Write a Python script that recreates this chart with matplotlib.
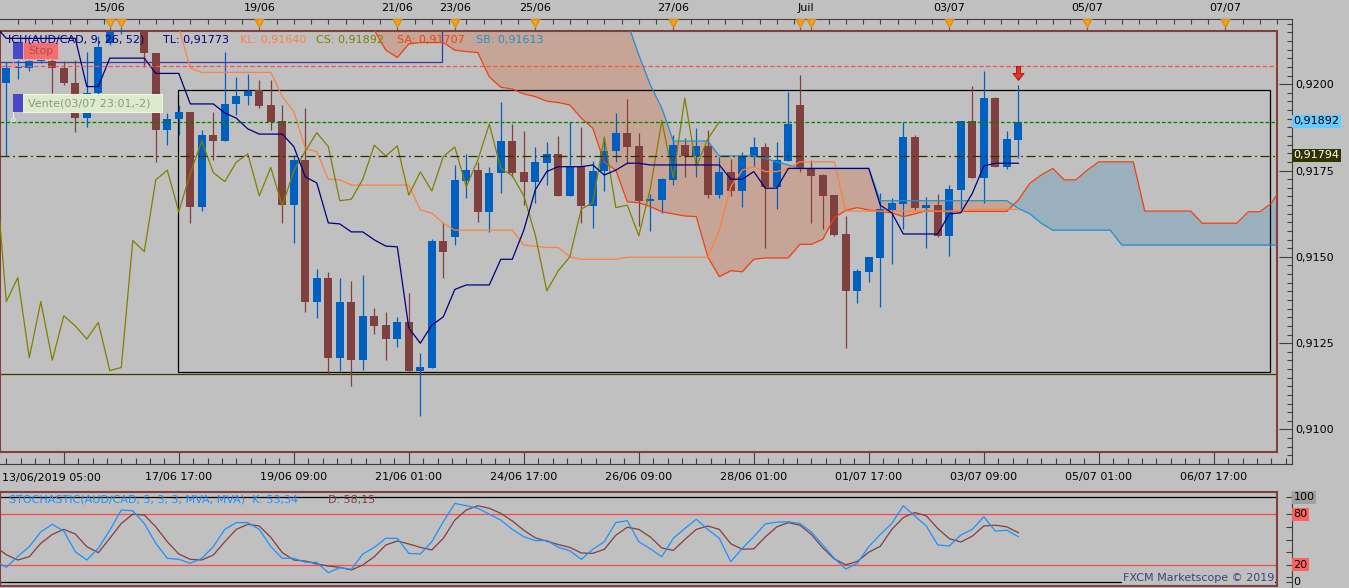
import numpy as np
import matplotlib
matplotlib.use("Agg")
import matplotlib.pyplot as plt
from matplotlib.patches import Rectangle, Circle
from matplotlib.path import Path
from matplotlib.transforms import Affine2D, blended_transform_factory

plt.rcParams['font.family'] = ['DejaVu Sans']
plt.rcParams['font.size'] = 8

# ---- AUD/CAD H4 candles, bar 0 = 13/06/2019 05:00 ----
opens = [0.92005, 0.92047, 0.92047, 0.92069, 0.92069, 0.92047, 0.92003, 0.91903, 0.91975, 0.92119,
         0.92151, 0.92180, 0.92165, 0.92092, 0.91868, 0.91900, 0.91921, 0.91648, 0.91853, 0.91838,
         0.91944, 0.91967, 0.91984, 0.91941, 0.91896, 0.91652, 0.91782, 0.91374, 0.91443, 0.91212,
         0.91374, 0.91205, 0.91333, 0.91306, 0.91266, 0.91314, 0.91175, 0.91183, 0.91550, 0.91561,
         0.91723, 0.91753, 0.91633, 0.91744, 0.91837, 0.91748, 0.91720, 0.91774, 0.91800, 0.91679,
         0.91761, 0.91650, 0.91751, 0.91808, 0.91861, 0.91823, 0.91665, 0.91667, 0.91725, 0.91825,
         0.91794, 0.91823, 0.91681, 0.91748, 0.91693, 0.91792, 0.91820, 0.91705, 0.91780, 0.91941,
         0.91758, 0.91739, 0.91681, 0.91569, 0.91405, 0.91460, 0.91500, 0.91638, 0.91656, 0.91849,
         0.91645, 0.91652, 0.91564, 0.91696, 0.91896, 0.91731, 0.91961, 0.91763, 0.91840]
highs = [0.92066, 0.92071, 0.92071, 0.92100, 0.92099, 0.92069, 0.92071, 0.92095, 0.92140, 0.92165,
         0.92190, 0.92200, 0.92175, 0.92092, 0.91918, 0.91941, 0.91921, 0.91869, 0.91921, 0.92095,
         0.92022, 0.92030, 0.92013, 0.92013, 0.91941, 0.91797, 0.91931, 0.91468, 0.91458, 0.91443,
         0.91434, 0.91451, 0.91355, 0.91345, 0.91330, 0.91398, 0.91227, 0.91554, 0.91603, 0.91768,
         0.91799, 0.91776, 0.91763, 0.91950, 0.91885, 0.91865, 0.91821, 0.91834, 0.91851, 0.91893,
         0.91877, 0.91779, 0.91845, 0.91917, 0.91958, 0.91859, 0.91683, 0.91731, 0.91854, 0.91847,
         0.91874, 0.91868, 0.91792, 0.91785, 0.91805, 0.91849, 0.91830, 0.91835, 0.91979, 0.92027,
         0.91782, 0.91742, 0.91681, 0.91621, 0.91468, 0.91503, 0.91686, 0.91672, 0.91892, 0.91854,
         0.91675, 0.91684, 0.91710, 0.91896, 0.91996, 0.92039, 0.91965, 0.91867, 0.91999]
lows = [0.91794, 0.92015, 0.92040, 0.92062, 0.91975, 0.91999, 0.91862, 0.91878, 0.91970, 0.92115,
        0.92145, 0.92160, 0.92050, 0.91777, 0.91826, 0.91854, 0.91600, 0.91636, 0.91782, 0.91838,
        0.91912, 0.91941, 0.91932, 0.91869, 0.91601, 0.91544, 0.91345, 0.91326, 0.91164, 0.91175,
        0.91131, 0.91177, 0.91280, 0.91205, 0.91244, 0.91175, 0.91044, 0.91183, 0.91443, 0.91537,
        0.91672, 0.91604, 0.91574, 0.91688, 0.91734, 0.91652, 0.91657, 0.91710, 0.91679, 0.91679,
        0.91601, 0.91587, 0.91694, 0.91777, 0.91771, 0.91593, 0.91578, 0.91629, 0.91710, 0.91734,
        0.91734, 0.91672, 0.91672, 0.91679, 0.91648, 0.91763, 0.91528, 0.91641, 0.91780, 0.91749,
        0.91601, 0.91583, 0.91564, 0.91241, 0.91371, 0.91430, 0.91359, 0.91481, 0.91582, 0.91638,
        0.91528, 0.91561, 0.91506, 0.91641, 0.91731, 0.91657, 0.91763, 0.91756, 0.91789]
closes = [0.92047, 0.92048, 0.92069, 0.92080, 0.92047, 0.92003, 0.91903, 0.91975, 0.92109, 0.92151,
          0.92180, 0.92165, 0.92092, 0.91868, 0.91900, 0.91921, 0.91648, 0.91853, 0.91838, 0.91944,
          0.91967, 0.91982, 0.91938, 0.91893, 0.91652, 0.91782, 0.91374, 0.91443, 0.91212, 0.91374,
          0.91205, 0.91333, 0.91304, 0.91266, 0.91314, 0.91175, 0.91184, 0.91550, 0.91518, 0.91725,
          0.91753, 0.91633, 0.91744, 0.91837, 0.91746, 0.91720, 0.91776, 0.91800, 0.91679, 0.91761,
          0.91650, 0.91751, 0.91808, 0.91861, 0.91821, 0.91665, 0.91669, 0.91727, 0.91825, 0.91794,
          0.91823, 0.91681, 0.91748, 0.91693, 0.91792, 0.91820, 0.91705, 0.91782, 0.91886, 0.91758,
          0.91737, 0.91679, 0.91566, 0.91405, 0.91463, 0.91503, 0.91641, 0.91659, 0.91849, 0.91645,
          0.91652, 0.91564, 0.91699, 0.91896, 0.91731, 0.91961, 0.91763, 0.91843, 0.91892]

# ---- Ichimoku (9, 26, 52) ----
line_start = -1   # first bar of tenkan / kijun
tenkan = [0.92170, 0.92133, 0.92133, 0.92133, 0.92133, 0.92133, 0.92133, 0.92133, 0.91994, 0.91994,
          0.92076, 0.92076, 0.92076, 0.92076, 0.92032, 0.92032, 0.92032, 0.91944, 0.91944, 0.91944,
          0.91918, 0.91903, 0.91872, 0.91857, 0.91857, 0.91857, 0.91821, 0.91734, 0.91716, 0.91601,
          0.91598, 0.91575, 0.91575, 0.91552, 0.91534, 0.91532, 0.91298, 0.91254, 0.91306, 0.91330,
          0.91409, 0.91422, 0.91422, 0.91422, 0.91496, 0.91496, 0.91580, 0.91696, 0.91749, 0.91763,
          0.91763, 0.91763, 0.91768, 0.91739, 0.91753, 0.91773, 0.91773, 0.91768, 0.91768, 0.91768,
          0.91768, 0.91768, 0.91768, 0.91768, 0.91727, 0.91727, 0.91749, 0.91701, 0.91701, 0.91758,
          0.91758, 0.91758, 0.91758, 0.91758, 0.91758, 0.91758, 0.91758, 0.91652, 0.91630, 0.91569,
          0.91569, 0.91569, 0.91569, 0.91627, 0.91630, 0.91686, 0.91765, 0.91773, 0.91773, 0.91773]
kijun = [0.92200, 0.92200, 0.92200, 0.92200, 0.92200, 0.92200, 0.92200, 0.92200, 0.92200, 0.92200,
         0.92200, 0.92200, 0.92200, 0.92200, 0.92200, 0.92200, 0.92165, 0.92047, 0.92035, 0.92035,
         0.92035, 0.92035, 0.92035, 0.92035, 0.92035, 0.91965, 0.91922, 0.91816, 0.91806, 0.91727,
         0.91725, 0.91710, 0.91710, 0.91710, 0.91710, 0.91710, 0.91710, 0.91638, 0.91629, 0.91600,
         0.91580, 0.91580, 0.91580, 0.91580, 0.91580, 0.91580, 0.91537, 0.91534, 0.91530, 0.91530,
         0.91503, 0.91496, 0.91496, 0.91496, 0.91496, 0.91502, 0.91502, 0.91502, 0.91502, 0.91502,
         0.91502, 0.91502, 0.91502, 0.91580, 0.91705, 0.91753, 0.91763, 0.91749, 0.91749, 0.91758,
         0.91777, 0.91777, 0.91777, 0.91777, 0.91635, 0.91635, 0.91635, 0.91635, 0.91635, 0.91635,
         0.91635, 0.91635, 0.91635, 0.91635, 0.91635, 0.91640, 0.91640, 0.91640, 0.91640, 0.91640]
span_start = 30   # first bar of senkou spans (already shifted 26 bars forward)
senkou_a = [0.92220, 0.92220, 0.92157, 0.92099, 0.92078, 0.92117, 0.92121, 0.92121, 0.92121, 0.92099,
            0.92095, 0.92092, 0.92022, 0.91992, 0.91987, 0.91973, 0.91965, 0.91952, 0.91948, 0.91941,
            0.91903, 0.91874, 0.91776, 0.91753, 0.91662, 0.91659, 0.91648, 0.91633, 0.91627, 0.91621,
            0.91619, 0.91503, 0.91446, 0.91463, 0.91460, 0.91496, 0.91500, 0.91500, 0.91500, 0.91539,
            0.91539, 0.91554, 0.91616, 0.91637, 0.91645, 0.91638, 0.91634, 0.91630, 0.91619, 0.91627,
            0.91636, 0.91634, 0.91634, 0.91634, 0.91634, 0.91634, 0.91634, 0.91634, 0.91667, 0.91715,
            0.91739, 0.91758, 0.91725, 0.91725, 0.91753, 0.91777, 0.91777, 0.91777, 0.91777, 0.91635,
            0.91635, 0.91635, 0.91635, 0.91635, 0.91600, 0.91600, 0.91600, 0.91600, 0.91633, 0.91633,
            0.91657, 0.91710]
senkou_b = [0.92250, 0.92250, 0.92250, 0.92250, 0.92250, 0.92250, 0.92250, 0.92250, 0.92250, 0.92250,
            0.92250, 0.92250, 0.92250, 0.92250, 0.92250, 0.92250, 0.92250, 0.92250, 0.92250, 0.92250,
            0.92250, 0.92250, 0.92250, 0.92250, 0.92180, 0.92085, 0.91999, 0.91932, 0.91837, 0.91837,
            0.91837, 0.91837, 0.91794, 0.91794, 0.91794, 0.91794, 0.91787, 0.91777, 0.91768, 0.91758,
            0.91758, 0.91758, 0.91758, 0.91758, 0.91758, 0.91758, 0.91665, 0.91665, 0.91665, 0.91665,
            0.91665, 0.91665, 0.91665, 0.91665, 0.91665, 0.91665, 0.91665, 0.91665, 0.91643, 0.91627,
            0.91600, 0.91580, 0.91580, 0.91580, 0.91580, 0.91580, 0.91580, 0.91537, 0.91537, 0.91537,
            0.91537, 0.91537, 0.91537, 0.91537, 0.91537, 0.91537, 0.91537, 0.91537, 0.91537, 0.91537,
            0.91537, 0.91537]
chikou_shift = 26

# ---- Stochastic (5, 3, 3) ----
stoch_start = -1
stoch_k = [25, 17, 30, 41.5, 59, 68, 60, 35.5, 25.7, 39.6,
           61, 85, 84, 69, 45.5, 27.7, 26.5, 21.8, 27.7, 41.5,
           62, 70, 70, 62, 41.5, 27.7, 27.7, 23, 22.8, 10.7,
           16.6, 14.7, 32.8, 40.7, 51.4, 51.4, 33.6, 32.8, 47.4, 71,
           92.8, 90, 87, 80, 73, 62, 53.3, 48.6, 49, 40.7,
           36.7, 26.5, 38.4, 47.4, 70, 72.3, 47.4, 39, 29.6, 51.4,
           63, 74, 62, 51.4, 23.7, 39.6, 53.3, 68.4, 70.5, 71,
           69, 59, 43.5, 27.7, 15, 21.8, 41.5, 56, 69, 90,
           77.8, 66, 43.5, 42.3, 55.3, 62, 77, 60, 61, 53.34]
stoch_d = [42, 32, 25.7, 29.6, 45.5, 56, 62, 56.5, 41.5, 34.4,
           51.4, 69, 80, 79, 65, 47.4, 32.8, 26.5, 25.7, 31.6,
           47.4, 62, 68, 66, 52.6, 34.4, 25.7, 24.5, 21, 18.6,
           17, 13.9, 19.8, 29.6, 43.5, 48.2, 44.7, 40.7, 37.6, 51.4,
           73, 85, 90, 87, 81, 72, 61, 52, 48, 44,
           40.7, 34, 33.6, 38.4, 55, 64.5, 62, 53, 40, 37,
           50, 62, 66, 62, 45, 38.4, 39, 53, 65, 70,
           67, 56, 40, 27, 20, 24, 35, 42, 62, 76,
           82, 78, 63, 51, 47, 54, 66, 67, 65, 58.15]
stoch_levels = [100, 80, 20, 0]

# ---- drawn objects / levels ----
stop_level = 0.92053
bid_level = 0.91892
last_level = 0.91794
low_line = 0.91164
box_bars = (14.96, 109.9)
box_prices = (0.91170, 0.91983)
zone_right_bar = 37.9
zone_price = 0.92066
signal_bar, signal_price = 88, 0.92033

price_ticks = [0.9100, 0.9125, 0.9150, 0.9175, 0.9200]
time_tick_bars = [5, 15, 25, 35, 45, 55, 65, 75, 85, 95, 105]
time_tick_labels = ['', '17/06 17:00', '19/06 09:00', '21/06 01:00', '24/06 17:00', '26/06 09:00',
                    '28/06 01:00', '01/07 17:00', '03/07 09:00', '05/07 01:00', '06/07 17:00']
event_bars = [9, 10, 22, 34, 39, 46, 58, 69, 70, 82, 94, 106]
date_label_bars = [9, 22, 34, 39, 46, 58, 69.5, 82, 94, 106]
date_labels = ['15/06', '19/06', '21/06', '23/06', '25/06', '27/06', 'Juil', '03/07', '05/07', '07/07']

# ---- colours ----
BG = '#C0C0C0'
FRAME = '#804040'
AXIS = '#404040'
BULL, BEAR = '#0060C0', '#804040'
NAVY, KIJ, OLIVE, SA_C, SB_C = '#000080', '#FF8040', '#808000', '#F04010', '#2090D0'
CLOUD_DN, CLOUD_UP = '#C6A596', '#9AB0BE'
K_C, D_C = '#1E90FF', '#804040'

# ---- pixel layout ----
W, H = 1349, 588
BAR0_PX, BAR_PX = 6.3, 11.5
P_REF, P_REF_PX, PX_PER_PRICE = 0.92, 84.5, 86.7 / 0.0025


def bar_at(px):
    return (px - BAR0_PX) / BAR_PX


def price_at(py):
    return P_REF - (py - P_REF_PX) / PX_PER_PRICE


def stoch_at(py):
    return (581.7 - py) / 0.844


fig = plt.figure(figsize=(W / 100, H / 100), dpi=100, facecolor=BG)
pix = Affine2D().scale(1.0 / W, -1.0 / H).translate(0, 1) + fig.transFigure


def add_ax(x0, y0, x1, y1):
    a = fig.add_axes([x0 / W, 1 - y1 / H, (x1 - x0) / W, (y1 - y0) / H])
    a.set_facecolor('none')
    return a


# outer axis frame for the price panel (top / right / bottom scales)
axf = add_ax(0, 19.3, 1291.7, 464)
axf.set_zorder(0)
axf.set_xlim(bar_at(0), bar_at(1291.7))
axf.set_ylim(price_at(464), price_at(19.3))
axf.spines['left'].set_visible(False)
for s in ('top', 'right', 'bottom'):
    axf.spines[s].set_color(AXIS)
    axf.spines[s].set_linewidth(0.8)
axf.yaxis.tick_right()
axf.set_yticks(price_ticks)
axf.set_yticklabels([f"{p:.4f}".replace('.', ',') for p in price_ticks])
axf.set_yticks(np.arange(0.9090, 0.9219, 0.00025), minor=True)
axf.tick_params(axis='y', which='major', direction='in', length=9.4, width=0.8, color=AXIS, pad=2.6, labelsize=8)
axf.tick_params(axis='y', which='minor', direction='in', length=3.6, width=0.8, color=AXIS)
axf.set_xticks(time_tick_bars)
axf.set_xticklabels(time_tick_labels)
axf.set_xticks(np.arange(0, 112, 1.25), minor=True)
axf.tick_params(axis='x', which='major', direction='in', length=11, width=0.8, color=AXIS, pad=6, labelsize=8)
axf.tick_params(axis='x', which='minor', direction='in', length=4.3, width=0.8, color=AXIS)

top = blended_transform_factory(axf.transData, axf.transAxes)
fh = 464 - 19.3
axf.vlines(np.arange(1, 112, 1.5), 1 - 5 / fh, 1, transform=top, color=AXIS, lw=0.8)
axf.vlines(event_bars, 1 - 11 / fh, 1, transform=top, color='#705050', lw=0.8)
tri = Path([(-0.55, 0), (0.55, 0), (0, -1), (-0.55, 0)])
axf.plot(event_bars, [1] * len(event_bars), transform=top, ls='none', marker=tri, ms=11.5,
         mfc='#F8A020', mec='#E09010', clip_on=False, zorder=4)
for b, lbl in zip(date_label_bars, date_labels):
    axf.annotate(lbl, xy=(b, 1), xycoords=('data', 'axes fraction'), xytext=(0, 8.1),
                 textcoords='offset points', ha='center', va='center', fontsize=8, annotation_clip=False)

for lvl, bg, fc in [(bid_level, '#66CCFF', 'black'), (last_level, '#333300', 'white')]:
    axf.annotate(f"{lvl:.5f}".replace('.', ','), xy=(1, lvl), xycoords=('axes fraction', 'data'),
                 xytext=(1.2, 0), textcoords='offset points', ha='left', va='center', color=fc,
                 fontsize=8, bbox=dict(boxstyle='square,pad=0.15', fc=bg, ec='none'),
                 annotation_clip=False, zorder=6)

# main price panel
ax = add_ax(0, 30.7, 1277, 451.7)
ax.set_zorder(1)
ax.set_facecolor(BG)
ax.set_xlim(bar_at(0), bar_at(1277))
ax.set_ylim(price_at(451.7), price_at(30.7))
ax.set_xticks([])
ax.set_yticks([])
for s in ax.spines.values():
    s.set_color(FRAME)
    s.set_linewidth(1.5)

xs = np.arange(span_start, span_start + len(senkou_a))
sa = np.array(senkou_a)
sb = np.array(senkou_b)
ax.fill_between(xs, sa, sb, where=sb >= sa, interpolate=True, color=CLOUD_DN, lw=0, zorder=1)
ax.fill_between(xs, sa, sb, where=sa > sb, interpolate=True, color=CLOUD_UP, lw=0, zorder=1)

ax.add_patch(Rectangle((box_bars[0], box_prices[0]), box_bars[1] - box_bars[0],
                       box_prices[1] - box_prices[0], fill=False, ec='black', lw=0.9, zorder=2))
ax.add_patch(Rectangle((bar_at(-20), zone_price), zone_right_bar - bar_at(-20), 0.003,
                       fill=False, ec='#3838A0', lw=0.9, zorder=2))
ax.axhline(low_line, color='#3A3A00', lw=0.9, zorder=2)

o, h, l, c = map(np.array, (opens, highs, lows, closes))
bars = np.arange(len(o))
col = np.where(c >= o, BULL, BEAR)
ax.vlines(bars, l, h, colors=col, lw=0.9, zorder=3)
ax.bar(bars, np.maximum(np.abs(c - o), 0.00004), bottom=np.minimum(o, c), width=0.72,
       color=col, lw=0, zorder=4)

lx = np.arange(line_start, line_start + len(tenkan))
ax.plot(xs, sa, color=SA_C, lw=0.9, zorder=5)
ax.plot(xs, sb, color=SB_C, lw=0.9, zorder=5)
ax.plot(lx, kijun, color=KIJ, lw=0.9, zorder=5)
ax.plot(bars - chikou_shift, c, color=OLIVE, lw=0.9, zorder=5)
ax.plot(lx, tenkan, color=NAVY, lw=0.9, zorder=5)

ax.axhline(stop_level, color='#FF5050', lw=0.9, dashes=(3.6, 1.8), zorder=6)
ax.axhline(bid_level, color='#008000', lw=0.9, dashes=(3.0, 1.6), zorder=6)
ax.axhline(last_level, color='#303000', lw=0.9, dashes=(7.2, 2.9, 1.4, 2.9), zorder=6)

arrow = Path([(-0.3, 1), (0.3, 1), (0.3, 0), (0.8, 0), (0, -1), (-0.8, 0), (-0.3, 0), (-0.3, 1)])
ax.plot([signal_bar], [signal_price], ls='none', marker=arrow, ms=10, mfc='#E83020', mec='#A01010',
        mew=0.6, zorder=7)

# indicator legend and order labels
legend_items = [("ICH(AUD/CAD, 9, 26, 52)", 8, NAVY), ("TL: 0,91773", 163, NAVY),
                ("KL: 0,91640", 240, KIJ), ("CS: 0,91892", 316, OLIVE),
                ("SA: 0,91707", 397, SA_C), ("SB: 0,91613", 476, SB_C)]
for txt, x0, colr in legend_items:
    fig.text(x0, 39.5, txt, transform=pix, color=colr, ha='left', va='center', fontsize=8, zorder=8)

fig.add_artist(Rectangle((13, 42), 10, 17, transform=pix, fc='#4848C8', ec='none', zorder=8))
fig.add_artist(Rectangle((23, 42), 35, 17, transform=pix, fc='#F07070', ec='#F8A0A0', lw=0.7, zorder=8))
fig.text(40.5, 50.5, 'Stop', transform=pix, color='#C04848', ha='center', va='center', fontsize=8, zorder=9)
fig.add_artist(Rectangle((13, 59), 0.8, 6, transform=pix, fc='#FF9090', ec='none', zorder=8))
fig.add_artist(Circle((13.4, 66), 1.8, transform=pix, fc='none', ec='#FF9090', lw=0.7, zorder=8))

fig.add_artist(Rectangle((13, 94), 10, 18, transform=pix, fc='#4848C8', ec='none', zorder=8))
fig.add_artist(Rectangle((23, 94), 139, 18, transform=pix, fc='#DCEBCB', ec='#EEF5E6', lw=0.7, zorder=8))
fig.text(28, 103, 'Vente(03/07 23:01,-2)', transform=pix, color='#8C9A78', ha='left', va='center',
         fontsize=8, zorder=9)
fig.add_artist(Rectangle((13, 112), 0.8, 6, transform=pix, fc='#F0F0F0', ec='none', zorder=8))
fig.add_artist(Circle((13.4, 120), 1.8, transform=pix, fc='none', ec='#F0F0F0', lw=0.7, zorder=8))

fig.text(2, 478, '13/06/2019 05:00', transform=pix, ha='left', va='center', fontsize=8)

# stochastic panel
asf = add_ax(0, 491.7, 1291.7, 588)
asf.set_zorder(0)
asf.set_xlim(bar_at(0), bar_at(1291.7))
asf.set_ylim(stoch_at(588), stoch_at(491.7))
for s in ('left', 'top', 'bottom'):
    asf.spines[s].set_visible(False)
asf.spines['right'].set_color(AXIS)
asf.spines['right'].set_linewidth(0.8)
asf.set_xticks([])
asf.yaxis.tick_right()
asf.set_yticks([0, 5, 20, 35, 50, 65, 80, 100])
asf.set_yticklabels([])
asf.tick_params(axis='y', direction='in', length=4.3, width=0.8, color=AXIS)
label_bg = {100: '#A0A0A0', 80: '#FF6060', 20: '#FF6060', 0: None}
for v in stoch_levels:
    bb = dict(boxstyle='square,pad=0.12', fc=label_bg[v], ec='none') if label_bg[v] else None
    asf.annotate(str(v), xy=(1, v), xycoords=('axes fraction', 'data'), xytext=(1.2, 0),
                 textcoords='offset points', ha='left', va='center', fontsize=8, bbox=bb,
                 annotation_clip=False)

ast = add_ax(0, 491.7, 1277, 585.7)
ast.set_zorder(1)
ast.set_facecolor(BG)
ast.set_xlim(bar_at(0), bar_at(1277))
ast.set_ylim(stoch_at(585.7), stoch_at(491.7))
ast.set_xticks([])
ast.set_yticks([])
for s in ast.spines.values():
    s.set_color(FRAME)
    s.set_linewidth(1.5)
for v in stoch_levels:
    ast.axhline(v, color='black' if v in (0, 100) else '#FF4848', lw=0.9, zorder=1)
sx = np.arange(stoch_start, stoch_start + len(stoch_k))
ast.plot(sx, stoch_d, color=D_C, lw=0.9, zorder=3)
ast.plot(sx, stoch_k, color=K_C, lw=0.9, zorder=4)

fig.text(9, 500, 'STOCHASTIC(AUD/CAD, 5, 3, 3, MVA, MVA)  K: 53,34', transform=pix, color=K_C,
         ha='left', va='center', fontsize=8, zorder=8)
fig.text(328, 500, 'D: 58,15', transform=pix, color=D_C, ha='left', va='center', fontsize=8, zorder=8)
fig.text(1274, 578, 'FXCM Marketscope \u00a9 2019', transform=pix, color='#404080', ha='right',
         va='center', fontsize=8, zorder=8,
         bbox=dict(boxstyle='square,pad=0.1', fc=BG, ec='none'))

fig.savefig('out.png', dpi=100, facecolor=BG)
